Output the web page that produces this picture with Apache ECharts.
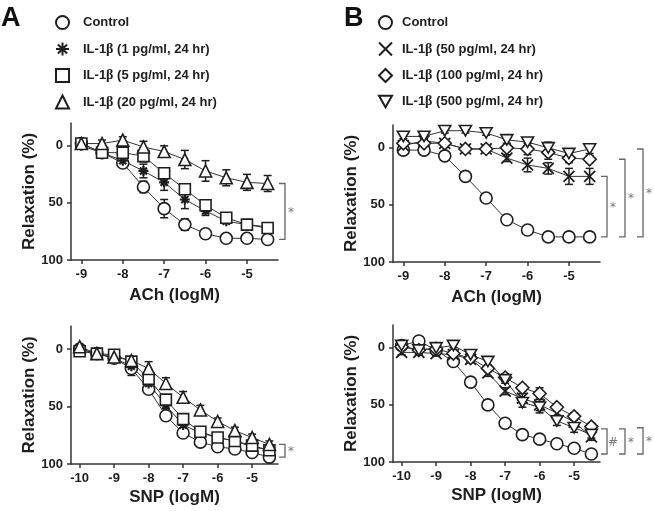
<!DOCTYPE html>
<html><head><meta charset="utf-8">
<script src="https://cdn.jsdelivr.net/npm/echarts@6.0.0/dist/echarts.min.js"></script>
<style>html,body{margin:0;padding:0;background:#fff}#c{width:654px;height:511px}</style>
</head><body><div id="c"></div>
<script>
// ---- categories / x values ----
const xACh = [-9,-8.5,-8,-7.5,-7,-6.5,-6,-5.5,-5,-4.5];
const xSNP = [-10,-9.5,-9,-8.5,-8,-7.5,-7,-6.5,-6,-5.5,-5,-4.5];
const namesA = ['Control','IL-1β (1 pg/ml, 24 hr)','IL-1β (5 pg/ml, 24 hr)','IL-1β (20 pg/ml, 24 hr)'];
const namesB = ['Control','IL-1β (50 pg/ml, 24 hr)','IL-1β (100 pg/ml, 24 hr)','IL-1β (500 pg/ml, 24 hr)'];
const achTicks = [-9,-8,-7,-6,-5];
const snpTicks = [-10,-9,-8,-7,-6,-5];
const yTicks = [0,50,100];

// ---- Panel A, ACh ----
const aAchControl = [-2, 6, 15, 36, 55, 69, 77, 81, 81, 82];
const aAchControlErr = [2, 2, 3, 5, 8, 5, 4, 2, 2, 2];
const aAch1 = [0, 6, 13, 22, 32, 47, 57, 66, 69, 71];
const aAch1Err = [2, 3, 4, 6, 7, 8, 4, 2, 2, 2];
const aAch5 = [-2, 6, 6, 9, 24, 38, 52, 63, 69, 72];
const aAch5Err = [2, 2, 3, 5, 4, 4, 4, 3, 2, 2];
const aAch20 = [-2, -2, -5, 1, 5, 12, 22, 28, 32, 33];
const aAch20Err = [2, 3, 3, 5, 5, 8, 9, 7, 7, 7];

// ---- Panel B, ACh ----
const bAchControl = [2, 2, 7, 25, 44, 63, 72, 78, 78, 78];
const bAchControlErr = [2, 2, 2, 2, 2, 2, 2, 2, 2, 2];
const bAch50 = [-2, -6, -4, 1, 1, 9, 15, 18, 25, 25];
const bAch50Err = [2, 2, 2, 2, 2, 3, 6, 5, 7, 7];
const bAch100 = [-4, -4, -4, 1, 1, 0, 1, 4, 9, 10];
const bAch100Err = [2, 2, 2, 2, 2, 3, 5, 6, 4, 3];
const bAch500 = [-10, -10, -15, -15, -13, -7, -5, 0, 5, 1];
const bAch500Err = [2, 2, 2, 2, 2, 3, 3, 5, 4, 4];

// ---- Panel A, SNP ----
const aSnpControl = [0, 4, 8, 17, 35, 58, 73, 81, 85, 87, 90, 94];
const aSnpControlErr = [2, 2, 3, 6, 3, 3, 3, 2, 2, 2, 2, 2];
const aSnp1 = [0, 4, 8, 15, 30, 49, 66, 73, 77, 80, 85, 88];
const aSnp1Err = [2, 2, 2, 3, 3, 3, 3, 2, 2, 2, 2, 2];
const aSnp5 = [2, 4, 5, 11, 26, 44, 61, 72, 77, 80, 84, 88];
const aSnp5Err = [2, 2, 2, 3, 3, 3, 3, 2, 2, 2, 2, 2];
const aSnp20 = [-2, 4, 7, 10, 17, 30, 42, 53, 63, 71, 77, 83];
const aSnp20Err = [2, 2, 2, 3, 6, 5, 5, 4, 3, 3, 3, 3];

// ---- Panel B, SNP ----
const bSnpControl = [-2, -6, 2, 12, 30, 50, 66, 76, 80, 84, 88, 93];
const bSnpControlErr = [2, 2, 2, 2, 2, 2, 2, 2, 2, 2, 2, 2];
const bSnp50 = [4, 4, 5, 6, 10, 22, 38, 44, 50, 57, 65, 78];
const bSnp50Err = [2, 2, 2, 2, 3, 3, 3, 4, 5, 4, 4, 3];
const bSnp100 = [-1, 2, 1, 5, 9, 18, 26, 35, 40, 52, 60, 69];
const bSnp100Err = [2, 2, 2, 2, 2, 3, 3, 3, 5, 3, 3, 3];
const bSnp500 = [-2, 2, 0, -2, 6, 12, 28, 48, 52, 64, 70, 76];
const bSnp500Err = [2, 2, 2, 2, 3, 3, 3, 4, 5, 4, 4, 3];

// ---- significance brackets: [top value, bottom value, label] ----
const bracketsAAch = [[33, 82, '*']];
const bracketsBAch = [[25, 78, '*'], [10, 78, '*'], [1, 78, '*']];
const bracketsASnp = [[83, 94, '*']];
const bracketsBSnp = [[71, 93, '#'], [71, 93, '*'], [70, 93, '*']];

// ---------------- styling / building ----------------
const INK = '#1e1e1e';
const SYM = {
  circle: 'circle',
  star: 'path://M5,0L5,10M0,5L10,5M1.5,1.5L8.5,8.5M8.5,1.5L1.5,8.5',
  rect: 'rect',
  tri: 'triangle',
  x: 'path://M0,0L10,10M10,0L0,10',
  dia: 'diamond',
  itri: 'path://M0,0L12,0L6,10.4Z'
};
const symA = ['circle', 'star', 'rect', 'tri'];
const symB = ['circle', 'x', 'dia', 'itri'];

function symStyle(key) {
  if (key === 'star') return {color: INK, borderColor: INK, borderWidth: 2.2};
  if (key === 'x') return {color: INK, borderColor: INK, borderWidth: 1.8};
  return {color: '#fff', borderColor: INK, borderWidth: 1.6};
}
function symSize(key) {
  if (key === 'star') return 10;
  if (key === 'x') return 11;
  if (key === 'rect') return 11;
  if (key === 'dia') return 13;
  return 12;
}

function errSeries(xs, ys, es, gi) {
  return {
    type: 'custom', xAxisIndex: gi, yAxisIndex: gi, z: 1, silent: true,
    data: xs.map((x, i) => [x, ys[i], es[i]]),
    encode: {x: 0, y: 1},
    renderItem: (p, api) => {
      const x = api.value(0), y = api.value(1), e = api.value(2);
      const a = api.coord([x, y - e]), b = api.coord([x, y + e]);
      const w = 4;
      const st = {stroke: INK, lineWidth: 1.5};
      return {type: 'group', children: [
        {type: 'line', shape: {x1: a[0], y1: a[1], x2: b[0], y2: b[1]}, style: st},
        {type: 'line', shape: {x1: a[0] - w, y1: a[1], x2: a[0] + w, y2: a[1]}, style: st},
        {type: 'line', shape: {x1: b[0] - w, y1: b[1], x2: b[0] + w, y2: b[1]}, style: st}
      ]};
    }
  };
}
function lineSeries(name, xs, ys, key, gi) {
  return {
    type: 'line', name, xAxisIndex: gi, yAxisIndex: gi, z: 2,
    data: xs.map((x, i) => [x, ys[i]]),
    symbol: SYM[key], symbolSize: symSize(key), symbolKeepAspect: true,
    lineStyle: {color: '#333', width: 1},
    itemStyle: symStyle(key),
    emphasis: {disabled: true},
    animation: false
  };
}
function bracketSeries(list, gi, xMin) {
  return {
    type: 'custom', xAxisIndex: gi, yAxisIndex: gi, z: 3, silent: true, clip: false,
    data: list.map(b => [b[0], b[1]]),
    encode: {y: [0, 1]},
    renderItem: (p, api) => {
      const cs = p.coordSys;
      const i = p.dataIndex;
      const x0 = cs.x + cs.width + 1 + i * 18;
      const y1 = api.coord([xMin, api.value(0)])[1];
      const y2 = api.coord([xMin, api.value(1)])[1];
      const st = {stroke: '#666', lineWidth: 1.3, fill: null};
      return {type: 'group', children: [
        {type: 'polyline', shape: {points: [[x0, y1], [x0 + 6, y1], [x0 + 6, y2], [x0, y2]]}, style: st},
        {type: 'text', x: x0 + 12, y: (y1 + y2) / 2 + 1,
         style: {text: list[i][2], fill: '#777', fontSize: 12,
                 fontFamily: 'DejaVu Sans', align: 'center', verticalAlign: 'middle'}}
      ]};
    }
  };
}

const tickFont = {fontSize: 13, fontWeight: 'bold', color: INK, fontFamily: 'Liberation Sans'};
const titleFont = {fontSize: 17, fontWeight: 'bold', color: INK, fontFamily: 'Liberation Sans'};

function xAx(gi, min, ticks, name, gap) {
  return {
    type: 'value', gridIndex: gi, min: min, max: -4.25, name: name,
    nameLocation: 'middle', nameGap: gap, nameTextStyle: titleFont,
    axisLine: {onZero: false, lineStyle: {color: '#333', width: 1.5}},
    axisTick: {customValues: ticks, length: 4, lineStyle: {color: '#333', width: 1.5}},
    axisLabel: Object.assign({customValues: ticks, margin: 8}, tickFont),
    splitLine: {show: false}
  };
}
function yAx(gi) {
  return {
    type: 'value', gridIndex: gi, min: -20, max: 100, inverse: true,
    name: 'Relaxation (%)', nameLocation: 'middle', nameGap: 33, nameRotate: 90,
    nameTextStyle: titleFont,
    axisLine: {show: true, onZero: false, lineStyle: {color: '#333', width: 1.5}},
    axisTick: {show: true, customValues: yTicks, length: 4, lineStyle: {color: '#333', width: 1.5}},
    axisLabel: Object.assign({customValues: yTicks, margin: 8}, tickFont),
    splitLine: {show: false}
  };
}

const series = [];
function addPanel(gi, xs, names, syms, vals, errs, brackets, xMin) {
  for (let k = 0; k < names.length; k++) {
    series.push(errSeries(xs, vals[k], errs[k], gi));
    series.push(lineSeries(names[k], xs, vals[k], syms[k], gi));
  }
  series.push(bracketSeries(brackets, gi, xMin));
}
addPanel(0, xACh, namesA, symA, [aAchControl, aAch1, aAch5, aAch20],
         [aAchControlErr, aAch1Err, aAch5Err, aAch20Err], bracketsAAch, -9.25);
addPanel(1, xACh, namesB, symB, [bAchControl, bAch50, bAch100, bAch500],
         [bAchControlErr, bAch50Err, bAch100Err, bAch500Err], bracketsBAch, -9.25);
addPanel(2, xSNP, namesA, symA, [aSnpControl, aSnp1, aSnp5, aSnp20],
         [aSnpControlErr, aSnp1Err, aSnp5Err, aSnp20Err], bracketsASnp, -10.25);
addPanel(3, xSNP, namesB, symB, [bSnpControl, bSnp50, bSnp100, bSnp500],
         [bSnpControlErr, bSnp50Err, bSnp100Err, bSnp500Err], bracketsBSnp, -10.25);

function legend(names, syms, left, textPad) {
  return {
    orient: 'vertical', left: left, top: 10, itemWidth: 13, itemHeight: 13, itemGap: 11.5,
    selectedMode: false,
    data: names.map((n, i) => ({name: n, icon: SYM[syms[i]]})),
    formatter: n => n.replace('β', '{g|β}'),
    textStyle: {fontSize: 13, fontWeight: 'bold', color: INK, fontFamily: 'Liberation Sans',
      padding: [0, 0, 0, textPad],
      rich: {g: {fontFamily: 'Liberation Serif', fontSize: 14, color: INK, padding: [0, 0, 0, 0]}}}
  };
}

const chart = echarts.init(document.getElementById('c'), null, {renderer: 'canvas'});
chart.setOption({
  backgroundColor: '#fff',
  animation: false,
  grid: [
    {left: 71, top: 123, width: 207, height: 137},
    {left: 393, top: 125, width: 207, height: 137},
    {left: 71, top: 326, width: 207, height: 138},
    {left: 393, top: 325, width: 207, height: 137}
  ],
  xAxis: [
    xAx(0, -9.25, achTicks, 'ACh (logM)', 27),
    xAx(1, -9.25, achTicks, 'ACh (logM)', 27),
    xAx(2, -10.25, snpTicks, 'SNP (logM)', 25),
    xAx(3, -10.25, snpTicks, 'SNP (logM)', 25)
  ],
  yAxis: [yAx(0), yAx(1), yAx(2), yAx(3)],
  legend: [legend(namesA, symA, 50, 9), legend(namesB, symB, 373, 5)],
  graphic: [
    {type: 'text', left: 1, top: 5, style: {text: 'A', fontSize: 27, fontWeight: 'bold', fill: '#111', fontFamily: 'Liberation Sans'}},
    {type: 'text', left: 344, top: 5, style: {text: 'B', fontSize: 27, fontWeight: 'bold', fill: '#111', fontFamily: 'Liberation Sans'}}
  ],
  series: series
});
</script>
</body></html>
